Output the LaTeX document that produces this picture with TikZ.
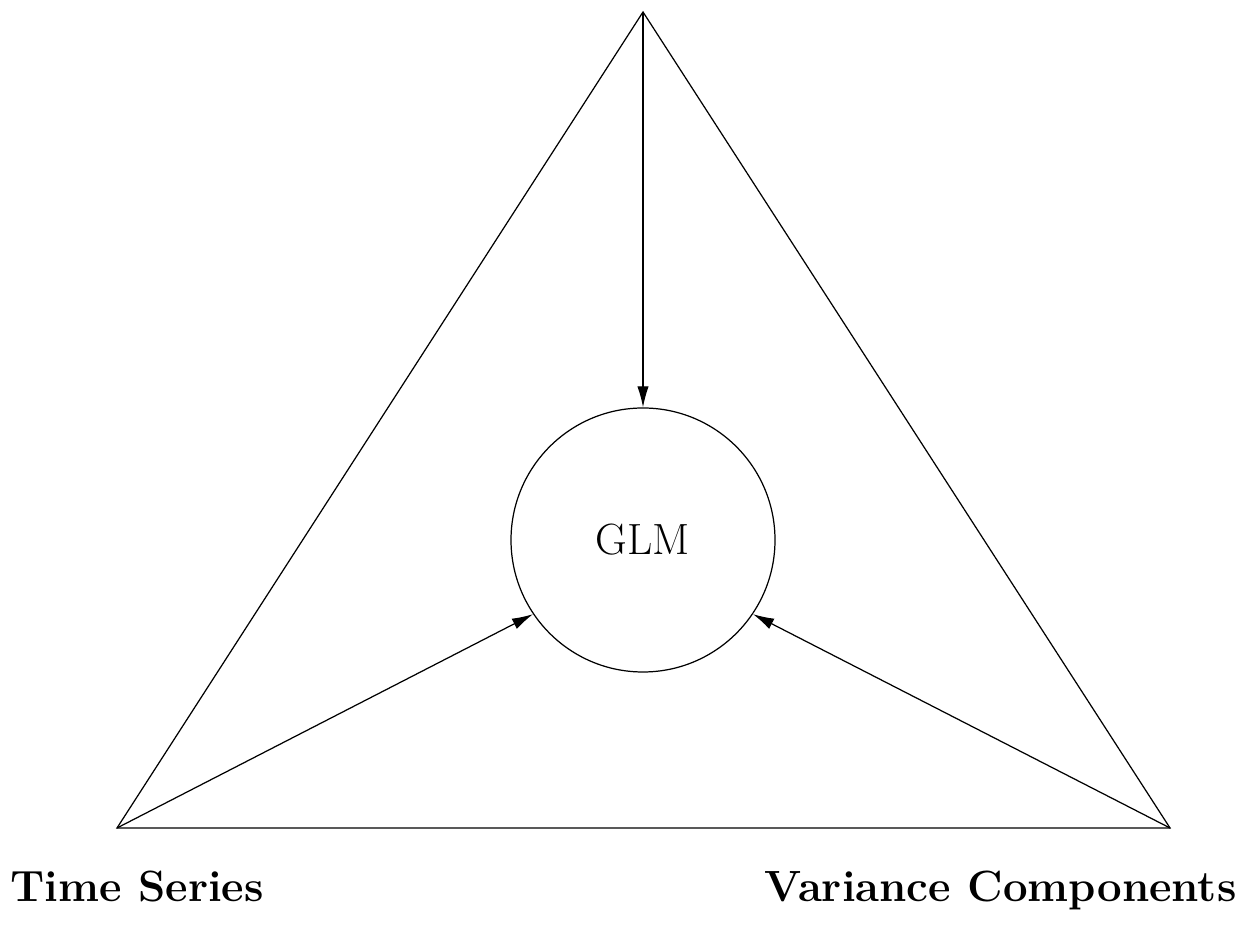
\documentclass[tikz,border=0pt]{standalone}
\usepackage{amsmath}
\usepackage{amssymb}
\usetikzlibrary{arrows.meta}

\begin{document}
\begin{tikzpicture}[main node/.style={circle,draw,line width=0.7pt,minimum size=5.28cm,inner sep=0pt,font=\Huge},
  label node/.style={font=\Huge\bfseries,inner sep=0pt},
  every path/.style={line width=0.7pt}]
  \useasboundingbox (0,0) rectangle (25.06,18.94);

  \coordinate (n0) at (12.86,18.70);
  \coordinate (n1) at (2.34,2.38);
  \coordinate (n2) at (23.40,2.38);
  \node[main node] (glm) at (12.86,8.14) {GLM};
  \node[label node,anchor=base west] (ts) at (0.2,0.9) {Time Series};
  \node[label node,anchor=base east] (vc) at (24.74,0.9) {Variance Components};

 \draw (n0) -- (n1) -- (n2) -- cycle;
 \path[]
 (n0) [-{Latex[length=12pt,width=6.5pt]}] edge node [] {} (glm.north)
 (n1) [-{Latex[length=12pt,width=6.5pt]}] edge node [] {} (glm.214)
 (n2) [-{Latex[length=12pt,width=6.5pt]}] edge node [] {} (glm.-34);
\end{tikzpicture}
\end{document}
